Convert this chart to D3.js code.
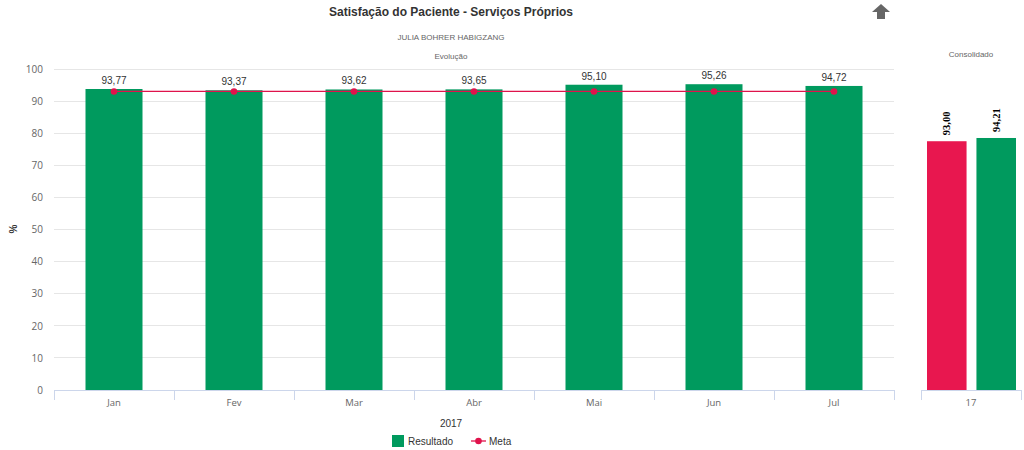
<!DOCTYPE html>
<html><head><meta charset="utf-8">
<script src="https://cdn.jsdelivr.net/npm/d3@7/dist/d3.min.js"></script>
<style>body{margin:0;background:#fff}svg{display:block}</style>
</head><body>
<svg id="c" width="1024" height="450"></svg>
<script>
const months = ["Jan","Fev","Mar","Abr","Mai","Jun","Jul"];
const resultado = [93.77, 93.37, 93.62, 93.65, 95.10, 95.26, 94.72];
const meta = [93, 93, 93, 93, 93, 93, 93];
const yTicks = [0,10,20,30,40,50,60,70,80,90,100];
const consCategory = ["17"];
const consMeta = [93.00];
const consResultado = [94.21];

const green = "#009a5e", red = "#e8174f", lineRed = "#e0134c";
const svg = d3.select("#c");
const fmt = v => d3.format(".2f")(v).replace(".", ",");

// titles
svg.append("text").attr("x",451).attr("y",16).attr("text-anchor","middle")
  .attr("font-family","Liberation Sans, Arial").attr("font-size",12).attr("font-weight","bold").attr("fill","#333")
  .text("Satisfação do Paciente - Serviços Próprios");
svg.append("text").attr("x",451).attr("y",40).attr("text-anchor","middle")
  .attr("font-family","Liberation Sans, Arial").attr("font-size",8).attr("fill","#666")
  .text("JULIA BOHRER HABIGZANG");
svg.append("text").attr("x",451).attr("y",59).attr("text-anchor","middle")
  .attr("font-family","Liberation Sans, Arial").attr("font-size",8).attr("fill","#666")
  .text("Evolução");
svg.append("text").attr("x",971).attr("y",57).attr("text-anchor","middle")
  .attr("font-family","Liberation Sans, Arial").attr("font-size",8).attr("fill","#666")
  .text("Consolidado");

// arrow icon
svg.append("path").attr("d","M881,4 L890,12 L885,12 L885,19 L877,19 L877,12 L872,12 Z").attr("fill","#666");

// main chart
const x = d3.scaleBand().domain(months).range([54,894]).padding(0);
const y = d3.scaleLinear().domain([0,100]).range([390,69]);
const bw = 57;

const grid = svg.append("g");
yTicks.forEach(t => {
  if (t === 0) return;
  grid.append("line").attr("x1",54).attr("x2",894).attr("y1",y(t)).attr("y2",y(t))
    .attr("stroke","#e6e6e6").attr("stroke-width",1).attr("shape-rendering","crispEdges");
});
const yAxis = svg.append("g").attr("transform","translate(54,0)")
  .call(d3.axisLeft(y).tickValues(yTicks).tickSize(0).tickPadding(11));
yAxis.select(".domain").remove();
yAxis.selectAll("text").attr("font-family","Open Sans").attr("font-size",10).attr("fill","#666");

svg.append("text").attr("transform","translate(17,229) rotate(-90)").attr("text-anchor","middle")
  .attr("font-family","Liberation Sans, Arial").attr("font-size",10).attr("font-weight","bold").attr("fill","#333").text("%");

svg.selectAll("rect.res").data(months).enter().append("rect")
  .attr("x",d => x(d)+x.bandwidth()/2-bw/2).attr("width",bw)
  .attr("y",(d,i)=>y(resultado[i])).attr("height",(d,i)=>y(0)-y(resultado[i])).attr("fill",green);

const xAxis = svg.append("g").attr("transform","translate(0,390)")
  .call(d3.axisBottom(x).tickSize(0).tickPadding(9));
xAxis.select(".domain").attr("stroke","#ccd6eb");
xAxis.selectAll("text").attr("font-family","Open Sans").attr("font-size",9.5).attr("fill","#666");
const bounds = months.map(m => x(m)).concat([x(months[months.length-1])+x.bandwidth()]);
bounds.forEach(b => svg.append("line").attr("x1",b).attr("x2",b).attr("y1",390).attr("y2",400)
  .attr("stroke","#ccd6eb").attr("shape-rendering","crispEdges"));

const line = d3.line().x((d,i)=>x(months[i])+x.bandwidth()/2).y(d=>y(d));
svg.append("path").datum(meta).attr("d",line).attr("fill","none").attr("stroke",lineRed).attr("stroke-width",1.3);
svg.selectAll("circle.meta").data(meta).enter().append("circle")
  .attr("cx",(d,i)=>x(months[i])+x.bandwidth()/2).attr("cy",d=>y(d)).attr("r",3.3).attr("fill",lineRed);

svg.selectAll("text.lab").data(resultado).enter().append("text")
  .attr("x",(d,i)=>x(months[i])+x.bandwidth()/2).attr("y",d=>y(d)-5).attr("text-anchor","middle")
  .attr("font-family","Liberation Sans, Arial").attr("font-size",10).attr("fill","#333").text(d=>fmt(d));

svg.append("text").attr("x",451).attr("y",427).attr("text-anchor","middle")
  .attr("font-family","Liberation Sans, Arial").attr("font-size",10).attr("fill","#333").text("2017");

// legend
svg.append("rect").attr("x",392).attr("y",435).attr("width",12).attr("height",12).attr("fill",green);
svg.append("text").attr("x",408).attr("y",445).attr("font-family","Liberation Sans, Arial").attr("font-size",10).attr("fill","#333").text("Resultado");
svg.append("line").attr("x1",471).attr("x2",486).attr("y1",441).attr("y2",441).attr("stroke",lineRed).attr("stroke-width",1.3);
svg.append("circle").attr("cx",478.5).attr("cy",441).attr("r",3.3).attr("fill",lineRed);
svg.append("text").attr("x",489).attr("y",445).attr("font-family","Liberation Sans, Arial").attr("font-size",10).attr("fill","#333").text("Meta");

// consolidated panel
const x2 = d3.scaleBand().domain(consCategory).range([921,1021]);
const y2 = d3.scaleLinear().domain([0,120]).range([390,69]);
const sub = d3.scaleBand().domain(["meta","res"]).range([x2(consCategory[0])+6, x2(consCategory[0])+x2.bandwidth()-5]).paddingInner(0.2);
const consData = [{k:"meta",v:consMeta[0],c:red},{k:"res",v:consResultado[0],c:green}];
svg.selectAll("rect.cons").data(consData).enter().append("rect")
  .attr("x",d=>sub(d.k)).attr("width",sub.bandwidth()).attr("y",d=>y2(d.v)).attr("height",d=>y2(0)-y2(d.v)).attr("fill",d=>d.c);
svg.selectAll("text.cons").data(consData).enter().append("text")
  .attr("transform",d=>`translate(${sub(d.k)+sub.bandwidth()/2+3.5},${y2(d.v)-6}) rotate(-90)`)
  .attr("font-family","Liberation Serif, Times New Roman").attr("font-size",10.5).attr("font-weight","bold").attr("fill","#000").text(d=>fmt(d.v));
const xAxis2 = svg.append("g").attr("transform","translate(0,390)")
  .call(d3.axisBottom(x2).tickSize(0).tickPadding(9));
xAxis2.select(".domain").attr("stroke","#ccd6eb");
xAxis2.selectAll("text").attr("font-family","Open Sans").attr("font-size",9.5).attr("fill","#666");
[921,1021].forEach(b => svg.append("line").attr("x1",b).attr("x2",b).attr("y1",390).attr("y2",400)
  .attr("stroke","#ccd6eb").attr("shape-rendering","crispEdges"));
</script>
</body></html>
